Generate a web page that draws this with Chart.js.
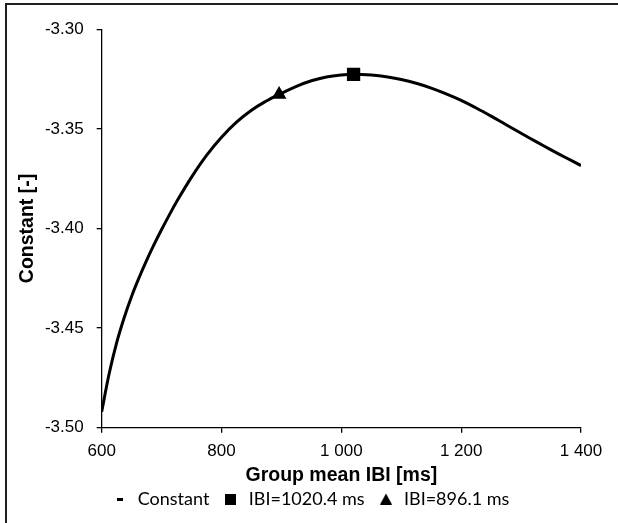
<!DOCTYPE html>
<html>
<head>
<meta charset="utf-8">
<script src="https://cdn.jsdelivr.net/npm/chart.js@4/dist/chart.umd.min.js"></script>
<style>
  html, body { margin: 0; padding: 0; background: #fff; overflow: hidden; }
  #wrap { position: relative; width: 618px; height: 523px; }
  #frame { position: absolute; left: 5px; top: 3px; width: 800px; height: 800px; border: 2px solid #1e1e1e; box-sizing: border-box; pointer-events: none; }
  canvas { position: absolute; left: 0; top: 0; }
</style>
</head>
<body>
<div id="wrap">
  <canvas id="c" width="618" height="523"></canvas>
  <div id="frame"></div>
</div>
<script>
// ---- data ----
const ibiValues = [600, 612.5, 625, 637.5, 650, 662.5, 675, 687.5, 700, 712.5, 725, 750, 775, 800, 825, 850, 875, 896.1, 925, 950, 975, 1000, 1020.4, 1050, 1075, 1100, 1125, 1150, 1175, 1200, 1225, 1250, 1275, 1300, 1325, 1350, 1375, 1400];
const constantValues = [-3.492, -3.4728, -3.4573, -3.4448, -3.434, -3.4246, -3.416, -3.408, -3.4005, -3.3934, -3.3866, -3.3742, -3.3633, -3.3542, -3.3466, -3.3406, -3.336, -3.3327, -3.3286, -3.3258, -3.3239, -3.3229, -3.3226, -3.323, -3.3238, -3.3252, -3.3271, -3.3295, -3.3324, -3.3357, -3.3395, -3.3436, -3.3479, -3.3522, -3.3564, -3.3605, -3.3645, -3.3684];
const peakIbi = [1020.4];
const peakConstant = [-3.3226];
const altIbi = [896.1];
const altConstant = [-3.3327];
const seriesNames = ['Constant', 'IBI=1020.4 ms', 'IBI=896.1 ms'];
const xTicks = [600, 800, 1000, 1200, 1400];
const yTicks = [-3.50, -3.45, -3.40, -3.35, -3.30];

const toXY = (xs, ys) => xs.map((x, i) => ({x: x, y: ys[i]}));

function makeIcon(w, h, drawFn) {
  const cv = document.createElement('canvas');
  cv.width = w; cv.height = h;
  const g = cv.getContext('2d');
  g.fillStyle = '#000';
  drawFn(g, w, h);
  return cv;
}
const iconDash = makeIcon(6, 3, (g, w, h) => g.fillRect(0, 0, w, h));
const iconSquare = makeIcon(11, 11, (g, w, h) => g.fillRect(0, 0, w, h));
const iconTri = makeIcon(12, 11, (g, w, h) => { g.beginPath(); g.moveTo(w / 2, 0); g.lineTo(w, h); g.lineTo(0, h); g.closePath(); g.fill(); });
const legendIcons = [iconDash, iconSquare, iconTri];

const fmtX = v => {
  const s = String(Math.round(v));
  return s.length > 3 ? s.slice(0, s.length - 3) + ' ' + s.slice(-3) : s;
};

new Chart(document.getElementById('c'), {
  type: 'line',
  data: {
    datasets: [
      {
        label: seriesNames[0],
        data: toXY(ibiValues, constantValues),
        borderColor: '#000',
        backgroundColor: '#000',
        borderWidth: 3,
        pointRadius: 0,
        tension: 0.4,
        fill: false,
        order: 10
      },
      {
        label: seriesNames[1],
        data: toXY(peakIbi, peakConstant),
        showLine: false,
        pointStyle: 'rect',
        pointRadius: 9.4,
        backgroundColor: '#000',
        borderColor: '#000',
        borderWidth: 0,
        order: 1
      },
      {
        label: seriesNames[2],
        data: toXY(altIbi, altConstant),
        showLine: false,
        pointStyle: 'triangle',
        pointRadius: 8.5,
        backgroundColor: '#000',
        borderColor: '#000',
        borderWidth: 0,
        order: 2
      }
    ]
  },
  options: {
    responsive: false,
    animation: false,
    devicePixelRatio: 1,
    layout: { padding: { left: 39, right: 37, top: 29.3, bottom: 5 } },
    plugins: {
      tooltip: { enabled: false },
      legend: {
        position: 'bottom',
        labels: {
          usePointStyle: true,
          boxWidth: 18,
          boxHeight: 18,
          padding: 12.4,
          color: '#000',
          font: { family: "Lato, 'Noto Sans', sans-serif", size: 18 },
          generateLabels: () => seriesNames.map((t, i) => ({
            text: t,
            fillStyle: '#000',
            strokeStyle: '#000',
            lineWidth: 0,
            pointStyle: legendIcons[i],
            hidden: false,
            datasetIndex: i,
            fontColor: '#000'
          }))
        }
      }
    },
    scales: {
      x: {
        type: 'linear',
        min: 600,
        max: 1400,
        afterBuildTicks: s => { s.ticks = xTicks.map(v => ({value: v})); },
        afterFit: s => { s.height = 49.9; },
        ticks: {
          color: '#000',
          padding: 8,
          font: { family: "'Liberation Sans', Arial, sans-serif", size: 17 },
          callback: v => fmtX(v)
        },
        grid: { display: true, drawOnChartArea: false, drawTicks: true, tickLength: 5, color: '#000', lineWidth: 1.3 },
        border: { display: true, color: '#000', width: 1.3 },
        title: {
          display: true,
          text: 'Group mean IBI [ms]',
          color: '#000',
          padding: { top: 0, bottom: 0 },
          font: { family: "'Liberation Sans', Arial, sans-serif", size: 19.5, weight: 'bold', lineHeight: '3.2px' }
        }
      },
      y: {
        type: 'linear',
        min: -3.50,
        max: -3.30,
        afterBuildTicks: s => { s.ticks = yTicks.map(v => ({value: v})); },
        afterFit: s => { s.width = 62.7; },
        ticks: {
          color: '#000',
          padding: 13,
          font: { family: "'Liberation Sans', Arial, sans-serif", size: 17 },
          callback: v => Number(v).toFixed(2)
        },
        grid: { display: true, drawOnChartArea: false, drawTicks: true, tickLength: 5, color: '#000', lineWidth: 1.3 },
        border: { display: true, color: '#000', width: 1.3 },
        title: {
          display: true,
          text: 'Constant [-]',
          color: '#000',
          padding: { top: -23, bottom: 0 },
          font: { family: "'Liberation Sans', Arial, sans-serif", size: 19.5, weight: 'bold', lineHeight: 1.2 }
        }
      }
    }
  }
});
</script>
</body>
</html>
